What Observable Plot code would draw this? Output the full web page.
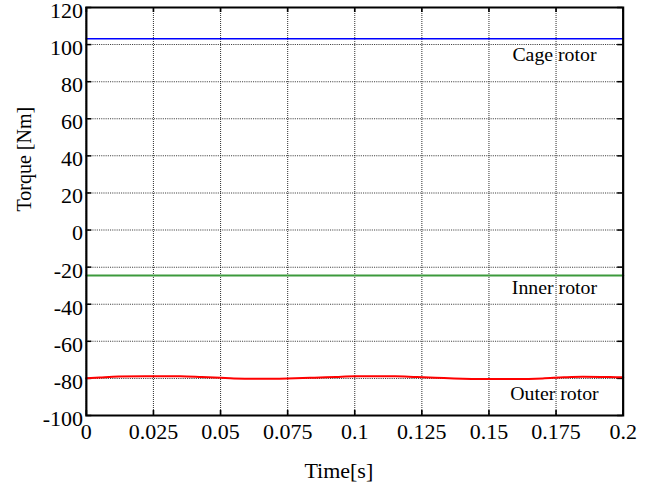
<!DOCTYPE html>
<html>
<head>
<meta charset="utf-8">
<script src="https://cdn.jsdelivr.net/npm/d3@7"></script>
<script src="https://cdn.jsdelivr.net/npm/@observablehq/plot@0.6"></script>
<style>
  html, body { margin: 0; padding: 0; background: #fff; overflow: hidden; }
  #chart svg {
    display: block;
    max-width: none !important;
    /* the figure is drawn on a slightly wide aspect */
    transform: scaleX(1.1);
    transform-origin: 0 0;
  }
  #chart svg, #chart svg text, #chart svg g {
    font-family: "Liberation Serif", "Times New Roman", serif !important;
  }
</style>
</head>
<body>
<div id="chart"></div>
<script>
// Axis ticks and their labels
const timeTicks = [0, 0.025, 0.05, 0.075, 0.1, 0.125, 0.15, 0.175, 0.2];
const timeTickLabels = ["0", "0.025", "0.05", "0.075", "0.1", "0.125", "0.15", "0.175", "0.2"];
const torqueTicks = [-100, -80, -60, -40, -20, 0, 20, 40, 60, 80, 100, 120];
const torqueTickLabels = ["-100", "-80", "-60", "-40", "-20", "0", "20", "40", "60", "80", "100", "120"];

// Cage rotor torque (steady)
const cageTime = [0, 0.2];
const cageTorque = [103.1, 103.1];

// Inner rotor torque (steady)
const innerTime = [0, 0.2];
const innerTorque = [-24.5, -24.5];

// Outer rotor torque with small ripple
const outerTime = [0, 0.005, 0.012, 0.022, 0.035, 0.043, 0.05, 0.055, 0.065, 0.075, 0.085, 0.093,
                   0.1, 0.115, 0.123, 0.13, 0.137, 0.15, 0.16, 0.17, 0.178, 0.185, 0.195, 0.2];
const outerTorque = [-79.9, -79.5, -79.0, -78.8, -78.9, -79.3, -79.7, -80.0, -80.2, -80.0, -79.6, -79.2,
                     -78.9, -78.9, -79.3, -79.6, -80.0, -80.3, -80.3, -80.0, -79.4, -79.1, -79.3, -79.4];

// Curve annotations
const curveNames = ["Cage rotor", "Inner rotor", "Outer rotor"];
const curveNameTime = [0.1744, 0.1744, 0.1744];
const curveNameTorque = [91.4, -34.4, -91.5];

const toRows = (ts, vs) => ts.map((t, i) => ({t, v: vs[i]}));
const cageRows = toRows(cageTime, cageTorque);
const innerRows = toRows(innerTime, innerTorque);
const outerRows = toRows(outerTime, outerTorque);
const nameRows = curveNames.map((name, i) => ({name, t: curveNameTime[i], v: curveNameTorque[i]}));

const xLabel = d => timeTickLabels[timeTicks.indexOf(d)];
const yLabel = d => torqueTickLabels[torqueTicks.indexOf(d)];

const serif = "Liberation Serif";
const W = 593, H = 495;
const mL = 78, mR = 27, mT = 7, mB = 80;
const frameH = H - mT - mB;
const frameW = W - mL - mR;
const tickLen = 5;
const gridStyle = {stroke: "#000", strokeOpacity: 0.75, strokeWidth: 1, strokeDasharray: "1,1"};
const tickStyle = {stroke: "#000", strokeWidth: 1.5};

const chart = Plot.plot({
  width: W,
  height: H,
  marginLeft: mL,
  marginRight: mR,
  marginTop: mT,
  marginBottom: mB,
  style: {fontFamily: serif, fontSize: "20px", color: "#000", background: "#fff"},
  x: {domain: [0, 0.2]},
  y: {domain: [-100, 120]},
  marks: [
    Plot.gridX(timeTicks, gridStyle),
    Plot.gridY(torqueTicks, gridStyle),
    // inward tick marks on all four sides
    Plot.ruleX(timeTicks, {x: d => d, insetTop: frameH - tickLen, ...tickStyle}),
    Plot.ruleX(timeTicks, {x: d => d, insetBottom: frameH - tickLen, ...tickStyle}),
    Plot.ruleY(torqueTicks, {y: d => d, insetRight: frameW - tickLen, ...tickStyle}),
    Plot.ruleY(torqueTicks, {y: d => d, insetLeft: frameW - tickLen, ...tickStyle}),
    Plot.axisX({ticks: timeTicks, tickFormat: xLabel, tickSize: 0, tickPadding: 9, label: null, fontSize: 20, fontFamily: serif}),
    Plot.axisY({ticks: torqueTicks, tickFormat: yLabel, tickSize: 0, tickPadding: 3, dy: 4, label: null, fontSize: 20, fontFamily: serif}),
    Plot.lineY(cageRows, {x: "t", y: "v", stroke: "#0000ff", strokeWidth: 1.5}),
    Plot.lineY(innerRows, {x: "t", y: "v", stroke: "#3c9a3c", strokeWidth: 2}),
    Plot.lineY(outerRows, {x: "t", y: "v", stroke: "#ff0000", strokeWidth: 2, curve: "monotone-x"}),
    Plot.text(nameRows, {x: "t", y: "v", text: "name", textAnchor: "middle", lineAnchor: "bottom", fontSize: 18, fontFamily: serif, fill: "#000"}),
    Plot.text(["Torque [Nm]"], {frameAnchor: "left", dx: -57, rotate: -90, fontSize: 20, fontFamily: serif, fill: "#000"}),
    Plot.text(["Time[s]"], {frameAnchor: "bottom", dx: -14.5, dy: 62, fontSize: 20, fontFamily: serif, fill: "#000"}),
    Plot.frame({stroke: "#000", strokeWidth: 2})
  ]
});

document.getElementById("chart").append(chart);
</script>
</body>
</html>
